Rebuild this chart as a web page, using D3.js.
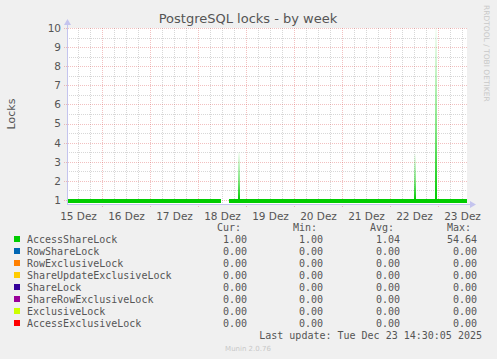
<!DOCTYPE html>
<html>
<head>
<meta charset="utf-8">
<script src="https://cdn.jsdelivr.net/npm/d3@7"></script>
<style>
  body { margin: 0; background: #f0f0f0; }
  svg { display: block; font-family: "DejaVu Sans", sans-serif; }
</style>
</head>
<body>
<svg class="chart" width="497" height="359"></svg>
<script>
const lockNames = ['AccessShareLock', 'RowShareLock', 'RowExclusiveLock', 'ShareUpdateExclusiveLock',
    'ShareLock', 'ShareRowExclusiveLock', 'ExclusiveLock', 'AccessExclusiveLock'];
const lockColors = ['#00cc00', '#0066b3', '#ff8000', '#ffcc00', '#330099', '#990099', '#ccff00', '#ff0000'];
const curVals = [1.00, 0, 0, 0, 0, 0, 0, 0];
const minVals = [1.00, 0, 0, 0, 0, 0, 0, 0];
const avgVals = [1.04, 0, 0, 0, 0, 0, 0, 0];
const maxVals = [54.64, 0, 0, 0, 0, 0, 0, 0];

// AccessShareLock over the week (null = no data)
const accessShare = [
    { t: '2025-12-15T06:30', v: 1 },
    { t: '2025-12-18T11:30', v: 1 },
    { t: '2025-12-18T11:30', v: null },
    { t: '2025-12-18T15:30', v: null },
    { t: '2025-12-18T15:30', v: 1 },
    { t: '2025-12-23T14:30', v: 1 }
];
// short peaks
const accessSharePeaks = [
    { t: '2025-12-18T20:30', v: 3.5 },
    { t: '2025-12-22T12:30', v: 3.4 },
    { t: '2025-12-22T23:00', v: 10 }
];

const dayTicks = ['2025-12-15T12:00', '2025-12-16T12:00', '2025-12-17T12:00', '2025-12-18T12:00',
    '2025-12-19T12:00', '2025-12-20T12:00', '2025-12-21T12:00', '2025-12-22T12:00', '2025-12-23T12:00'];
const dayLabels = ['15 Dez', '16 Dez', '17 Dez', '18 Dez', '19 Dez', '20 Dez', '21 Dez', '22 Dez', '23 Dez'];
const yTickValues = [1, 2, 3, 4, 5, 6, 7, 8, 9, 10];

const parse = d3.timeParse('%Y-%m-%dT%H:%M');
const chart = d3.select('.chart');

const x = d3.scaleTime()
    .domain([parse('2025-12-15T06:30'), parse('2025-12-23T14:30')])
    .range([67, 467]);
const y = d3.scaleLinear()
    .domain([0.79, 10])
    .range([204, 28]);

const majorGrid = 'rgba(220,90,90,0.38)';
const minorGrid = 'rgba(150,150,150,0.38)';
const axisColor = '#c4c4ee';
const textColor = '#555';

// plot background
chart.append('rect')
    .attr('x', x.range()[0]).attr('y', y.range()[1])
    .attr('width', x.range()[1] - x.range()[0])
    .attr('height', y.range()[0] - y.range()[1])
    .attr('fill', '#fff');

const grid = chart.append('g').attr('shape-rendering', 'crispEdges');
const hours = d3.timeHour.every(6).range(...x.domain());
grid.selectAll('.vminor').data(hours.filter(d => d.getHours() !== 0))
    .enter().append('line')
    .attr('x1', d => Math.round(x(d)) + 0.5).attr('x2', d => Math.round(x(d)) + 0.5)
    .attr('y1', y.range()[1]).attr('y2', y.range()[0])
    .attr('stroke', minorGrid).attr('stroke-dasharray', '1,1');
const halfSteps = d3.range(1.5, 10, 1);
grid.selectAll('.hminor').data(halfSteps)
    .enter().append('line')
    .attr('x1', 67).attr('x2', 467)
    .attr('y1', d => Math.round(y(d)) + 0.5).attr('y2', d => Math.round(y(d)) + 0.5)
    .attr('stroke', minorGrid).attr('stroke-dasharray', '1,1');
grid.selectAll('.vmajor').data(d3.timeDay.range(...x.domain()))
    .enter().append('line')
    .attr('x1', d => Math.round(x(d)) + 0.5).attr('x2', d => Math.round(x(d)) + 0.5)
    .attr('y1', y.range()[1]).attr('y2', y.range()[0] + 3)
    .attr('stroke', majorGrid).attr('stroke-dasharray', '1,1');
grid.selectAll('.hmajor').data(yTickValues)
    .enter().append('line')
    .attr('x1', 64).attr('x2', 467)
    .attr('y1', d => Math.round(y(d)) + 0.5).attr('y2', d => Math.round(y(d)) + 0.5)
    .attr('stroke', majorGrid).attr('stroke-dasharray', '1,1');

// data
const defs = chart.append('defs');
const grad = defs.append('linearGradient')
    .attr('id', 'peak').attr('x1', 0).attr('x2', 0).attr('y1', 0).attr('y2', 1);
grad.append('stop').attr('offset', '0%').attr('stop-color', '#00cc00').attr('stop-opacity', 0.03);
grad.append('stop').attr('offset', '60%').attr('stop-color', '#00cc00').attr('stop-opacity', 0.5);
grad.append('stop').attr('offset', '100%').attr('stop-color', '#00cc00').attr('stop-opacity', 1);

const area = d3.area()
    .defined(d => d.v !== null)
    .x(d => x(parse(d.t)))
    .y0(y.range()[0] - 1)
    .y1(d => y(d.v) - 1);
chart.append('path')
    .datum(accessShare)
    .attr('d', area)
    .attr('fill', lockColors[0]);

chart.selectAll('.peak').data(accessSharePeaks)
    .enter().append('rect')
    .attr('x', d => x(parse(d.t)) - 1)
    .attr('width', 2)
    .attr('y', d => y(d.v))
    .attr('height', d => y(1) - y(d.v))
    .attr('fill', 'url(#peak)');

// axes
const yAxis = chart.append('g').attr('transform', 'translate(67,0)');
yAxis.call(d3.axisLeft(y).tickValues(yTickValues).tickSize(0).tickPadding(6));
yAxis.select('.domain').remove();
yAxis.selectAll('text').attr('fill', textColor).attr('font-size', 10.5)
    .attr('font-family', '"DejaVu Sans", sans-serif');

const xAxis = chart.append('g').attr('transform', 'translate(0,204)');
xAxis.call(d3.axisBottom(x).tickValues(dayTicks.map(parse))
    .tickFormat((d, i) => dayLabels[i]).tickSize(0).tickPadding(9));
xAxis.select('.domain').remove();
xAxis.selectAll('text').attr('fill', textColor).attr('font-size', 10.5)
    .attr('font-family', '"DejaVu Sans", sans-serif');

chart.append('line')
    .attr('x1', 67.5).attr('x2', 67.5).attr('y1', 24).attr('y2', 204)
    .attr('stroke', axisColor);
chart.append('path').attr('d', 'M64,25 L67.5,19 L71,25 Z').attr('fill', axisColor);
chart.append('line')
    .attr('x1', 67).attr('x2', 471).attr('y1', 204.5).attr('y2', 204.5)
    .attr('stroke', axisColor);
chart.append('path').attr('d', 'M470,201 L476,204.5 L470,208 Z').attr('fill', axisColor);

// titles
chart.append('text')
    .attr('x', 248).attr('y', 23)
    .attr('text-anchor', 'middle')
    .attr('font-size', 13)
    .attr('fill', textColor)
    .text('PostgreSQL locks - by week');
chart.append('text')
    .attr('transform', 'translate(15,114) rotate(-90)')
    .attr('text-anchor', 'middle')
    .attr('font-size', 11)
    .attr('fill', textColor)
    .text('Locks');
chart.append('text')
    .attr('transform', 'translate(484,5) rotate(90)')
    .attr('font-size', 7.5)
    .attr('fill', '#c8c8c8')
    .text('RRDTOOL / TOBI OETIKER');

// legend
const mono = '"DejaVu Sans Mono", monospace';
const cols = [247, 323, 400, 477];
const heads = ['Cur:', 'Min:', 'Avg:', 'Max:'];
chart.selectAll('.head').data(heads)
    .enter().append('text')
    .attr('x', (d, i) => cols[i] - 6).attr('y', 231)
    .attr('text-anchor', 'end')
    .attr('font-family', mono).attr('font-size', 10)
    .attr('fill', textColor)
    .text(d => d);

const rows = chart.selectAll('.row').data(lockNames)
    .enter().append('g')
    .attr('transform', (d, i) => `translate(0,${243 + i * 12})`);
rows.append('rect')
    .attr('x', 14).attr('y', -7).attr('width', 6).attr('height', 6)
    .attr('fill', (d, i) => lockColors[i]);
rows.append('text')
    .attr('x', 27).attr('y', 0)
    .attr('font-family', mono).attr('font-size', 10)
    .attr('fill', textColor)
    .text(d => d);
[curVals, minVals, avgVals, maxVals].forEach((vals, c) => {
    rows.append('text')
        .attr('x', cols[c]).attr('y', 0)
        .attr('text-anchor', 'end')
        .attr('font-family', mono).attr('font-size', 10)
        .attr('fill', textColor)
        .text((d, i) => vals[i].toFixed(2));
});

chart.append('text')
    .attr('x', 482).attr('y', 339)
    .attr('text-anchor', 'end')
    .attr('font-family', mono).attr('font-size', 10)
    .attr('fill', textColor)
    .text('Last update: Tue Dec 23 14:30:05 2025');
chart.append('text')
    .attr('x', 248).attr('y', 351)
    .attr('text-anchor', 'middle')
    .attr('font-size', 7)
    .attr('fill', '#c8c8c8')
    .text('Munin 2.0.76');
</script>
</body>
</html>
